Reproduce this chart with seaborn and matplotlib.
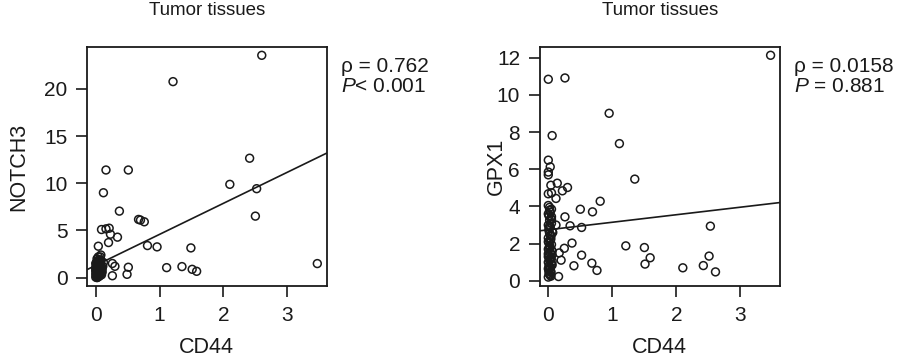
import matplotlib
matplotlib.use("Agg")
import matplotlib.pyplot as plt
import seaborn as sns
import pandas as pd

# ---------------- data ----------------
title_text = "Tumor tissues"
x_label = "CD44"

# Left panel: CD44 vs NOTCH3
cd44_left = [3.47, 2.60, 2.52, 2.50, 2.41, 2.10, 1.58, 1.51, 1.49, 1.35,
             1.21, 1.11, 0.96, 0.81, 0.76, 0.70, 0.67, 0.51, 0.51, 0.49,
             0.37, 0.34, 0.30, 0.26, 0.26, 0.23, 0.21, 0.20, 0.16, 0.16,
             0.12, 0.09, 0.07, 0.04, 0.08,
             0.00, 0.01, 0.02, 0.00, 0.03, 0.05, 0.04, 0.06, 0.02, 0.01,
             0.07, 0.03, 0.08, 0.00, 0.05, 0.09, 0.04, 0.02, 0.06, 0.10,
             0.01, 0.03, 0.07, 0.00, 0.05, 0.08, 0.02, 0.04, 0.11, 0.06,
             0.01, 0.03, 0.09, 0.00, 0.07, 0.05, 0.02, 0.12, 0.04, 0.06,
             0.03, 0.05, 0.07, 0.02, 0.04, 0.06, 0.08, 0.01, 0.03, 0.05,
             0.07, 0.09, 0.02, 0.04, 0.06, 0.00, 0.08, 0.03, 0.05, 0.10]
notch3 = [1.49, 23.57, 9.43, 6.52, 12.66, 9.89, 0.67, 0.88, 3.15, 1.17,
          20.78, 1.06, 3.26, 3.40, 5.92, 6.10, 6.17, 11.41, 1.10, 0.35,
          7.05, 4.29, 1.20, 1.50, 0.20, 4.60, 5.24, 3.72, 11.41, 5.17,
          9.00, 5.10, 2.20, 3.33, 2.40,
          0.05, 0.20, 0.10, 0.40, 0.30, 0.15, 0.60, 0.50, 0.80, 1.00,
          0.35, 1.20, 0.70, 1.50, 0.90, 1.10, 1.40, 1.70, 1.30, 0.90,
          0.25, 0.55, 1.60, 0.70, 1.90, 1.40, 2.00, 0.10, 1.20, 0.80,
          1.30, 0.90, 0.50, 1.10, 1.00, 0.45, 0.60, 1.60, 2.20, 1.80,
          0.05, 0.25, 0.60, 1.05, 1.25, 0.20, 0.40, 1.55, 1.75, 0.75,
          1.15, 0.30, 0.00, 0.95, 1.55, 0.85, 1.85, 0.15, 0.55, 0.60]

# Right panel: CD44 vs GPX1
cd44_right = [3.47, 0.00, 0.26, 0.95, 0.06, 1.11, 1.35, 0.00, 0.03, 0.00,
              0.00, 0.04, 0.14, 0.30, 0.22, 0.00, 0.05, 0.12, 0.81, 0.50,
              0.69, 0.26, 2.53, 0.34, 0.52, 0.12, 0.37, 1.21, 1.50, 1.59,
              1.51, 0.52, 0.40, 0.68, 0.76, 2.10, 2.42, 2.51, 2.61, 0.25,
              0.20, 0.17, 0.16,
              0.00, 0.02, 0.04, 0.01, 0.03, 0.05, 0.00, 0.02, 0.04, 0.01,
              0.03, 0.06, 0.00, 0.02, 0.05, 0.01, 0.03, 0.00, 0.04, 0.02,
              0.06, 0.01, 0.03, 0.00, 0.05, 0.02, 0.04, 0.01, 0.00, 0.03,
              0.05, 0.02, 0.00, 0.04, 0.01, 0.03, 0.06, 0.02, 0.00, 0.04,
              0.01, 0.05, 0.03, 0.00, 0.02,
              0.04, 0.01, 0.06, 0.03, 0.00, 0.05, 0.02, 0.04, 0.07, 0.01,
              0.03, 0.06, 0.00, 0.02, 0.05]
gpx1 = [12.13, 10.84, 10.91, 9.01, 7.81, 7.38, 5.47, 6.49, 6.13, 5.85,
        5.70, 5.14, 5.25, 5.02, 4.84, 4.68, 4.73, 4.43, 4.28, 3.85,
        3.71, 3.44, 2.94, 2.96, 2.87, 3.00, 2.03, 1.88, 1.79, 1.24,
        0.90, 1.38, 0.81, 0.95, 0.56, 0.70, 0.82, 1.33, 0.48, 1.75,
        1.11, 1.50, 0.23,
        0.20, 0.35, 0.50, 0.60, 0.75, 0.90, 1.00, 1.10, 1.25, 1.35,
        1.50, 1.60, 1.70, 1.85, 1.95, 2.05, 2.20, 2.30, 2.45, 2.55,
        2.65, 2.80, 2.90, 3.00, 3.10, 3.25, 3.35, 3.50, 3.60, 3.70,
        3.85, 3.95, 4.05, 0.45, 0.80, 1.20, 1.40, 1.75, 2.10, 2.40,
        2.70, 3.30, 0.30, 0.65, 3.80,
        0.25, 0.55, 0.85, 1.15, 1.45, 1.65, 1.90, 2.25, 2.60, 0.40,
        0.70, 1.05, 1.30, 2.95, 3.45]

# Fitted lines (intercept, slope)
fit_left = (1.30, 3.29)
fit_right = (2.745, 0.405)

rho_left = "ρ = 0.762"
p_left = r"$\it{P}$< 0.001"
rho_right = "ρ = 0.0158"
p_right = r"$\it{P}$ = 0.881"

x_ticks = [0, 1, 2, 3]
y_ticks_left = [0, 5, 10, 15, 20]
y_ticks_right = [0, 2, 4, 6, 8, 10, 12]

# ---------------- style ----------------
sns.set_style("ticks")
ink = "#1a1a1a"
plt.rcParams["font.family"] = ["Liberation Sans", "DejaVu Sans"]
plt.rcParams["mathtext.fontset"] = "custom"
plt.rcParams["mathtext.rm"] = "Liberation Sans"
plt.rcParams["mathtext.it"] = "Liberation Sans:italic"
plt.rcParams["text.color"] = ink
plt.rcParams["axes.labelcolor"] = ink
plt.rcParams["xtick.color"] = ink
plt.rcParams["ytick.color"] = ink

fig = plt.figure(figsize=(8.98, 3.58), dpi=100)
ax1 = fig.add_axes([0.0969, 0.2, 0.2669, 0.670])
ax2 = fig.add_axes([0.6008, 0.2, 0.2678, 0.670])

df_left = pd.DataFrame({"CD44": cd44_left, "NOTCH3": notch3})
df_right = pd.DataFrame({"CD44": cd44_right, "GPX1": gpx1})

panels = [
    (ax1, df_left, "NOTCH3", fit_left, y_ticks_left, (-0.93, 24.5), rho_left, p_left, -0.24),
    (ax2, df_right, "GPX1", fit_right, y_ticks_right, (-0.3, 12.6), rho_right, p_right, -0.135),
]

for ax, df, ycol, fit, yt, ylim, rho_t, p_t, ylab_x in panels:
    sns.scatterplot(data=df, x="CD44", y=ycol, ax=ax, s=32, marker="o",
                    facecolor="none", edgecolor=ink, linewidth=1.1)
    ax.axline((0, fit[0]), slope=fit[1], color=ink, linewidth=1.2)
    ax.set_xlim(-0.137, 3.617)
    ax.set_ylim(*ylim)
    ax.set_xticks(x_ticks)
    ax.set_yticks(yt)
    ax.tick_params(axis="both", direction="out", length=8, width=1.2,
                   labelsize=15, pad=6)
    for sp in ax.spines.values():
        sp.set_visible(True)
        sp.set_linewidth(1.3)
        sp.set_color(ink)
    ax.set_xlabel(x_label, fontsize=15.5)
    ax.set_ylabel(ycol, fontsize=15.5)
    ax.xaxis.set_label_coords(0.5, -0.21)
    ax.yaxis.set_label_coords(ylab_x, 0.5)
    ax.set_title(title_text, fontsize=13.5, pad=23)
    ax.text(1.058, 0.895, rho_t, transform=ax.transAxes, fontsize=15,
            ha="left", va="baseline", clip_on=False)
    ax.text(1.058, 0.809, p_t, transform=ax.transAxes, fontsize=15,
            ha="left", va="baseline", clip_on=False)

fig.savefig("out.png", dpi=100)
